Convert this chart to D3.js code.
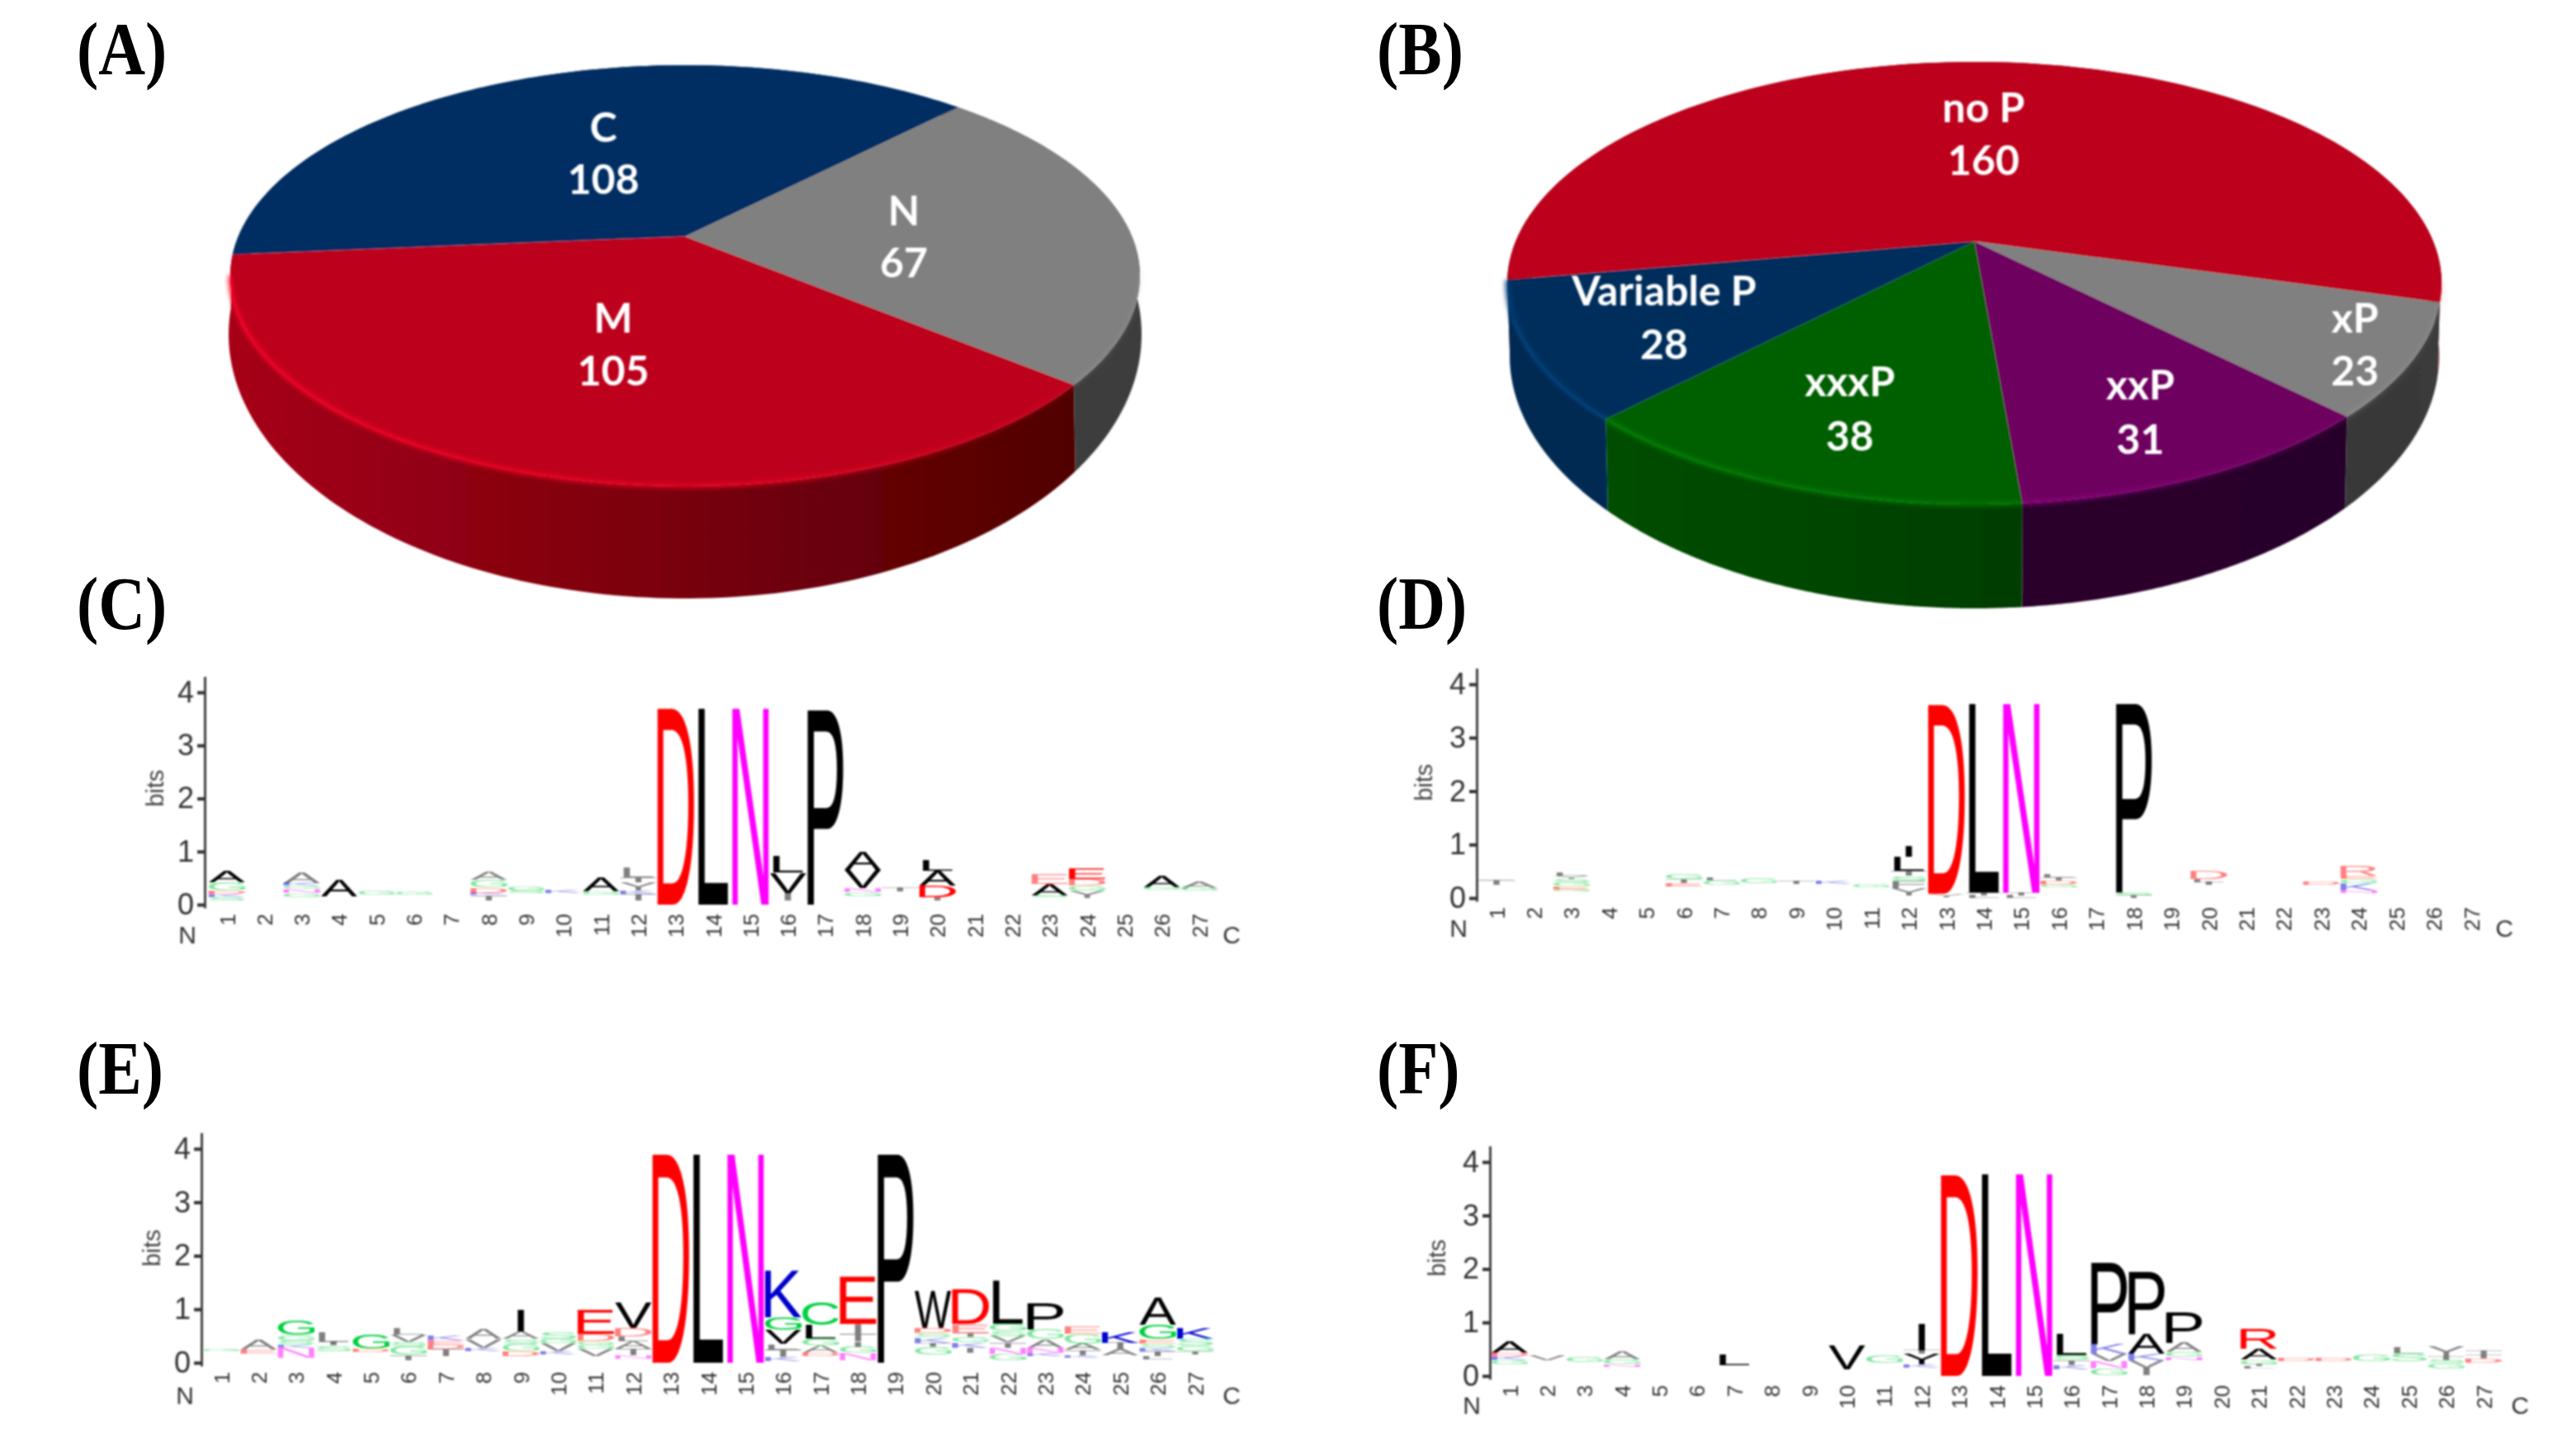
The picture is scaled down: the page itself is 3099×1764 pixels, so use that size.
<!DOCTYPE html>
<html><head><meta charset="utf-8">
<style>html,body{margin:0;padding:0;background:#fff;overflow:hidden}svg{display:block}</style>
<script src="https://cdn.jsdelivr.net/npm/d3@7/dist/d3.min.js"></script>
</head><body><svg id="c"></svg>
<script>
const W=3099,H=1764;
// ---- data
const panelLetters=["(A)","(B)","(C)","(D)","(E)","(F)"];
const pieACategories=["C","N","M"];
const pieAValues=[108,67,105];
const pieBCategories=["no P","xP","xxP","xxxP","Variable P"];
const pieBValues=[160,23,31,38,28];
const positions=d3.range(1,28);
const bitTicks=[0,1,2,3,4];
// each stack is bottom-to-top: letter + height in 1/100 bit; "_" is an empty gap
const logoC=["_8 S6 K6 D6 G16 A22","","_14 G7 N8 G6 K6 A19","_15 A32","_18 G7","_19 G6","","_8 T10 K4 D10 G14 A16","_22 S5 G8","_22 K5","_18 G6 A26","_8 T12 K6 Y16 T10 L18","D370","L370","N370","_8 I14 V38 L32","P367","_15 G8 N8 V34 A34","_25 T8","_8 I6 D22 A28 L20","","","_14 S3 A22 E18","_12 Y14 G10 D12 E20","","_28 G5 A22","_26 G5 A11"];
const logoD=["_25 T10","","_13 G3 E6 G8 S6 Y5 L6","","","_22 E6 T7 G9","_24 G8 L5","_27 G10","_26 T6","_27 K5","_20 G5","_5 Y14 F14 S8 T10 L26 I20","_2 Y6 D354","L5 T5 L354","L5 T5 N354","_20 G5 D8 T6 L6","","T5 S5 P354","","_25 I5 L6 D16","","","_25 D5","_10 N4 K14 G8 E6 R18","","",""];
const logoE=["_22 G4","_17 E8 A17","_10 N18 K6 S8 G10 G26","_22 S10 I7 L18","_20 D6 G26","_5 T10 G16 S8 V14 L12","_12 T14 D8 E8 K10","_22 K6 V16 A18","_12 D10 G14 S8 A14 I40","_15 K6 V16 G8 S12","_12 V14 G8 G6 D14 E46","_8 N6 T12 A14 L10 D15 V48","D390","L390","N390","_3 K8 T14 L10 V26 G24 K87","_12 D6 A14 G12 L26 C42","_4 N14 G12 I10 T14 I18 E88","P390","_15 G14 T8 K10 S8 D10 W70","_18 I10 K10 G10 T8 E16 D66","_4 G12 N12 T10 V12 S10 G12 L81","_12 K6 N10 A16 G18 P50","_10 K4 T10 A12 G18 E14","_14 A12 T11 K20","_6 L6 T10 K6 S8 E8 G26 A52","_16 T6 G10 S12 K20"];
const logoF=["_22 G8 K7 D6 A22","_29 V10","_26 G9","_17 N4 G10 A16","","","_20 L20","","","_12 V45","_25 G14","_15 K6 Y20 T7 I50","D376","L378","N378","_12 K8 T10 S8 L40","_2 G12 N14 V14 K18 P152","_1 I14 V14 K12 A37 P116","_30 N5 G10 A17 P57","","_14 L4 T4 G8 A20 R38","_28 D5","_28 D5","_27 G12","_27 S14 L11","_14 G10 S6 T7 Y18","_24 D8 T8 T7"];

// ---- layout and style
const residueColor={D:"#ff0000",E:"#ff0000",R:"#ff0000",N:"#ff00ff",Q:"#ff00ff",K:"#0000cc",H:"#0000cc",G:"#00d040",S:"#00d040",C:"#00d040",
 A:"#000",V:"#000",L:"#000",I:"#000",P:"#000",W:"#000",F:"#000",M:"#000",T:"#000",Y:"#000"};
const panelPos=[[93,90],[1668,90],[93,762],[1668,762],[93,1325],[1668,1325]];
const pieLayouts=[
 {cats:pieACategories,vals:pieAValues,start:-95,apex:-0.186,top:{cx:830,cy:334,rx:551,ry:255},bot:{cx:830,cy:405,rx:553,ry:320},
  fill:["#002f63","#808080","#bd001c"],
  side:[["#00284f","#00284f"],["#2f2f2f","#3d3d3d"],["#a60018","#4a0000"]],
  labels:[[731,154,217],[1095,255,318],[743,385,449]]},
 {cats:pieBCategories,vals:pieBValues,start:-100,apex:-0.188,top:{cx:2392,cy:343,rx:566,ry:268},bot:{cx:2392,cy:431,rx:563,ry:306},
  fill:["#bd001c","#808080","#6e0060","#006000","#002f5c"],
  side:[["#6a0010","#6a0010"],["#303030","#3a3a3a"],["#330030","#26002a"],["#005200","#002c00"],["#002a52","#002448"]],
  labels:[[2403,130,194],[2853,385,449],[2593,466,532],[2241,462,528],[2016,352,417]]}
];
const logos=[
 {data:logoC,axisX:248,y0:1096,unit:64.3,x1:275,x27:1453,nx:227,cx:1492,ny:1132,bitsX:198,bitsY:955},
 {data:logoD,axisX:1789,y0:1088,unit:64.75,x1:1813,x27:2994,nx:1767,cx:3034,ny:1124,bitsX:1735,bitsY:948},
 {data:logoE,axisX:244,y0:1651,unit:64.8,x1:268,x27:1448,nx:224,cx:1492,ny:1690,bitsX:194,bitsY:1512},
 {data:logoF,axisX:1805,y0:1667,unit:64.8,x1:1829,x27:3009,nx:1783,cx:3053,ny:1702,bitsX:1751,bitsY:1524}
];

const svg=d3.select("#c").attr("width",W).attr("height",H).attr("viewBox",`0 0 ${W} ${H}`);
const defs=svg.append("defs");
defs.append("filter").attr("id","soft").attr("x","-5%").attr("y","-5%").attr("width","110%").attr("height","110%").append("feGaussianBlur").attr("stdDeviation",0.9);
defs.append("filter").attr("id","glow").attr("filterUnits","userSpaceOnUse").attr("x",0).attr("y",0).attr("width",W).attr("height",H).append("feGaussianBlur").attr("stdDeviation",2.4);
svg.append("rect").attr("width",W).attr("height",H).attr("fill","#fff");

// ---- panel letters
svg.append("g").selectAll("text").data(panelLetters).join("text")
 .attr("transform",(d,i)=>`translate(${panelPos[i][0]},${panelPos[i][1]}) scale(0.96,1.12)`)
 .attr("font-family","'Liberation Serif'").attr("font-weight","bold").attr("font-size",82).attr("fill","#000").text(d=>d);

// ---- 3-D pies: d3.pie gives the angles, a projective map puts the centre on the apex
pieLayouts.forEach((p,pi)=>{
 const g=svg.append("g").attr("filter","url(#soft)");
 const arcs=d3.pie().sort(null).startAngle(p.start*Math.PI/180).endAngle((p.start+360)*Math.PI/180)(p.vals);
 const s=Math.sqrt(1-p.apex*p.apex);
 const proj=(th,e)=>{const u0=Math.sin(th),v0=-Math.cos(th),w=1+p.apex*v0;
   return [e.cx+e.rx*u0*s/w, e.cy+e.ry*(v0+p.apex)/w];};
 const samp=(a)=>d3.range(0,121).map(i=>a.startAngle+(a.endAngle-a.startAngle)*i/120);
 const line=d3.line();
 const x0=p.top.cx-p.top.rx,x1=p.top.cx+p.top.rx;
 const order=d3.range(arcs.length).sort((a,b)=>d3.max(samp(arcs[a]),t=>proj(t,p.top)[1])-d3.max(samp(arcs[b]),t=>proj(t,p.top)[1]));
 order.forEach(i=>{
   const gid=`side${pi}_${i}`;
   const lg=defs.append("linearGradient").attr("id",gid).attr("gradientUnits","userSpaceOnUse").attr("x1",x0).attr("x2",x1).attr("y1",0).attr("y2",0);
   lg.append("stop").attr("offset",0).attr("stop-color",p.side[i][0]);
   lg.append("stop").attr("offset",1).attr("stop-color",p.side[i][1]);
   const ts=samp(arcs[i]);
   const pts=ts.map(t=>proj(t,p.top)).concat(ts.slice().reverse().map(t=>proj(t,p.bot)));
   g.append("path").attr("d",line(pts)+"Z").attr("fill",`url(#${gid})`);
 });
 arcs.forEach((a,i)=>{
   const ts=samp(a);
   const apexPt=[p.top.cx,p.top.cy+p.top.ry*p.apex];
   g.append("path").attr("d",line([apexPt].concat(ts.map(t=>proj(t,p.top))))+"Z").attr("fill",p.fill[i]);
 });
 // bright bevel along the front rim
 const frontLine=d3.line().defined(q=>q[1]>p.top.cy-4);
 arcs.forEach((a,i)=>{
   const gid=`rim${pi}_${i}`;
   const col=d3.color(p.fill[i]).brighter(0.9).formatHex();
   const lg=defs.append("linearGradient").attr("id",gid).attr("gradientUnits","userSpaceOnUse").attr("x1",x0).attr("x2",x1).attr("y1",0).attr("y2",0);
   lg.append("stop").attr("offset",0).attr("stop-color",col).attr("stop-opacity",0.95);
   lg.append("stop").attr("offset",0.55).attr("stop-color",col).attr("stop-opacity",0.7);
   lg.append("stop").attr("offset",1).attr("stop-color",col).attr("stop-opacity",0.12);
   const pts=samp(a).map(t=>proj(t,p.top));
   g.append("path").attr("d",frontLine(pts)).attr("fill","none").attr("stroke",`url(#${gid})`).attr("stroke-width",5).attr("filter","url(#glow)");
 });
 const lab=svg.append("g").attr("font-family","Lato").attr("font-weight","bold").attr("font-size",50).attr("fill","#fff").attr("text-anchor","middle").attr("filter","url(#soft)");
 p.cats.forEach((c,i)=>{
   const L=p.labels[i];
   lab.append("text").attr("x",L[0]).attr("y",L[1]).attr("dy",".36em").text(c);
   lab.append("text").attr("x",L[0]).attr("y",L[2]).attr("dy",".36em").text(p.vals[i]);
 });
});

// ---- sequence logos
const ctx=document.createElement("canvas").getContext("2d");
const FS=200,FONT="'Liberation Sans'";
ctx.font=`${FS}px ${FONT}`;
const glyphBox={};
function box(ch){ if(!glyphBox[ch]){const m=ctx.measureText(ch);glyphBox[ch]={l:-m.actualBoundingBoxLeft,r:m.actualBoundingBoxRight,a:m.actualBoundingBoxAscent,d:m.actualBoundingBoxDescent};} return glyphBox[ch]; }
logos.forEach(lg=>{
 const g=svg.append("g").attr("filter","url(#soft)");
 const y=d3.scaleLinear().domain([0,4]).range([lg.y0,lg.y0-4*lg.unit]);
 const x=d3.scalePoint().domain(positions).range([lg.x1,lg.x27]);
 const colW=x.step()*0.98;
 // axes
 const ya=g.append("g").attr("transform",`translate(${lg.axisX},0)`)
  .call(d3.axisLeft(y.copy().domain([0,4.3]).range([lg.y0+4,y(4.3)])).tickValues([]).tickSize(0));
 ya.selectAll("path").attr("stroke","#444").attr("stroke-width",3);
 const yb=g.append("g").attr("transform",`translate(${lg.axisX},0)`)
  .call(d3.axisLeft(y).tickValues(bitTicks).tickFormat(d3.format("d")).tickSize(9).tickPadding(4));
 yb.select(".domain").remove();
 yb.selectAll("line").attr("stroke","#333").attr("stroke-width",4);
 yb.selectAll("text").attr("font-family","'Liberation Sans'").attr("font-size",36).attr("fill","#333");
 const xa=g.append("g").attr("transform",`translate(0,${lg.y0+10})`)
  .call(d3.axisBottom(x).tickSize(0).tickPadding(0));
 xa.select(".domain").remove();
 xa.selectAll("text").attr("font-family","'Liberation Sans'").attr("font-size",26).attr("fill","#333")
  .attr("text-anchor","end").attr("dy",0).attr("y",0).attr("x",-1).attr("transform","rotate(-90)").attr("dominant-baseline","central");
 g.append("text").attr("transform",`translate(${lg.bitsX},${lg.bitsY}) rotate(-90)`).attr("text-anchor","middle").attr("font-family","'Liberation Sans'").attr("font-size",29).attr("fill","#444").text("bits");
 g.append("text").attr("x",lg.nx).attr("y",lg.ny).attr("text-anchor","middle").attr("dy",".35em").attr("font-family","'Liberation Sans'").attr("font-size",30).attr("fill","#333").text("N");
 g.append("text").attr("x",lg.cx).attr("y",lg.ny).attr("text-anchor","middle").attr("dy",".35em").attr("font-family","'Liberation Sans'").attr("font-size",30).attr("fill","#333").text("C");
 // stacks
 const marks=g.append("g").attr("font-family",FONT).attr("font-size",FS);
 lg.data.forEach((stack,i)=>{
  let b=0;
  if(!stack) return;
  stack.split(" ").forEach(tok=>{
   const ch=tok[0],v=+tok.slice(1)/100;
   if(ch!=="_"){
    const bx=box(ch),gw=bx.r-bx.l,gh=bx.a+bx.d;
    const sx=colW/Math.max(gw,0.55*FS), sy=(y(b)-y(b+v))/gh;
    const xc=x(positions[i]);
    const tx=xc-(bx.l+bx.r)/2*sx, ty=y(b)-bx.d*sy;
    marks.append("text").attr("transform",`translate(${tx},${ty}) scale(${sx},${sy})`)
      .attr("fill",residueColor[ch]).attr("fill-opacity",v<0.2?0.5:1).text(ch);
   }
   b+=v;
  });
 });
});
</script></body></html>
